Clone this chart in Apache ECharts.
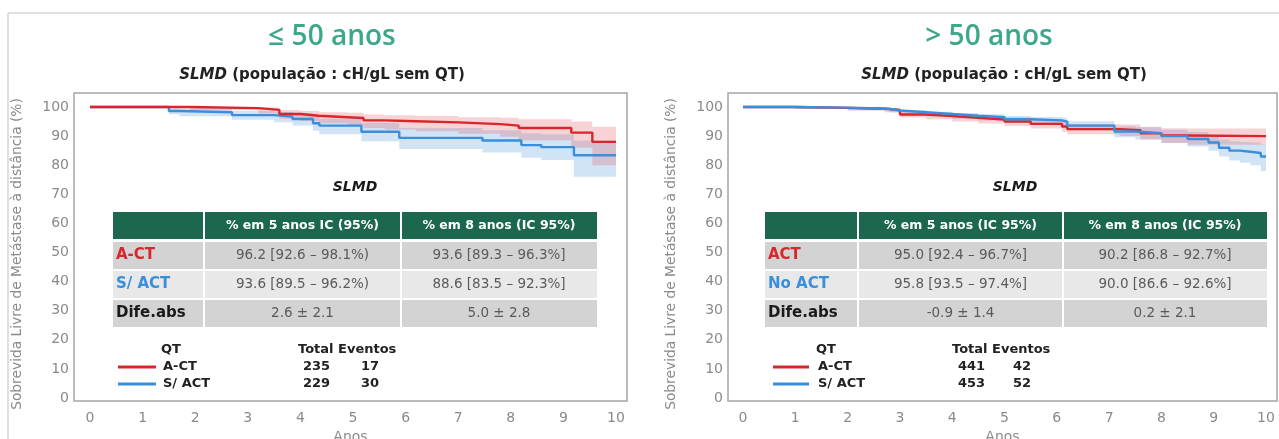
<!DOCTYPE html>
<html><head><meta charset="utf-8">
<script src="https://cdn.jsdelivr.net/npm/echarts@6/dist/echarts.min.js"></script>
<style>html,body{margin:0;padding:0;background:#fff}#c{width:1279px;height:439px}</style>
</head><body><div id="c"></div>
<script>
// ---------- DATA ----------
const xTicks = [0,1,2,3,4,5,6,7,8,9,10];
const yTicks = [0,10,20,30,40,50,60,70,80,90,100];
const panelTitles = ['≤ 50 anos', '> 50 anos'];
const subTitle = 'SLMD';
const subTitleRest = ' (população : cH/gL sem QT)';
const innerLabel = 'SLMD';
const yName = 'Sobrevida Livre de Metástase à distância (%)';
const xName = 'Anos';

// ≤ 50 anos – A-CT (red)
const youngActT   = [0, 1.9, 3.2, 3.6, 4.0, 4.35, 4.9, 5.2, 5.6, 6.2, 7.0, 7.8, 8.15, 9.15, 9.55, 10];
const youngActS   = [100, 99.6, 99.0, 97.6, 97.0, 96.5, 96.2, 95.4, 95.1, 94.7, 94.1, 93.6, 92.8, 91.2, 88.0, 88.0];
const youngActLo  = [100, 99.0, 97.8, 96.0, 95.2, 94.4, 93.8, 92.8, 92.3, 91.7, 90.8, 89.8, 88.6, 86.0, 80.0, 80.0];
const youngActHi  = [100, 100, 99.8, 99.0, 98.6, 98.2, 98.0, 97.4, 97.2, 96.9, 96.5, 96.3, 95.8, 95.0, 93.2, 93.2];
// ≤ 50 anos – S/ ACT (blue)
const youngNoT    = [0, 1.5, 1.7, 2.7, 3.5, 3.85, 4.24, 4.36, 5.16, 5.88, 7.46, 8.2, 8.58, 9.2, 10];
const youngNoS    = [100, 98.6, 98.2, 97.2, 96.7, 95.9, 94.4, 93.6, 91.5, 89.4, 88.5, 86.9, 86.2, 83.4, 83.4];
const youngNoLo   = [100, 97.5, 96.8, 95.6, 94.8, 93.6, 91.8, 90.6, 88.2, 85.6, 84.4, 82.6, 81.8, 76.0, 76.0];
const youngNoHi   = [100, 99.6, 99.4, 98.6, 98.3, 97.8, 96.8, 96.0, 94.5, 92.8, 92.0, 91.0, 90.6, 88.5, 88.5];

// > 50 anos – A-CT (red)
const oldActT  = [0, 1.0, 2.0, 2.7, 3.0, 3.5, 4.0, 4.5, 5.0, 5.5, 6.1, 6.2, 7.2, 7.6, 8.0, 8.5, 10];
const oldActS  = [100, 99.7, 99.4, 99.0, 97.4, 96.9, 96.3, 95.7, 95.0, 94.2, 93.3, 92.4, 92.0, 91.0, 90.2, 90.0, 90.0];
const oldActLo = [100, 99.3, 98.8, 98.2, 96.4, 95.8, 95.0, 94.3, 93.5, 92.6, 91.5, 90.6, 90.0, 88.8, 87.6, 87.0, 86.6];
const oldActHi = [100, 100, 99.9, 99.6, 98.3, 97.9, 97.4, 96.9, 96.4, 95.7, 95.0, 94.2, 94.0, 93.2, 92.7, 92.6, 92.6];
// > 50 anos – S/ ACT (blue)
const oldNoT  = [0, 1.0, 2.0, 2.8, 3.0, 3.5, 4.0, 4.5, 5.0, 5.5, 6.1, 6.2, 7.1, 7.5, 8.0, 8.5, 8.9, 9.1, 9.3, 9.5, 9.7, 9.9, 10];
const oldNoS  = [100, 99.8, 99.4, 98.8, 98.2, 97.6, 97.0, 96.5, 95.8, 95.4, 95.0, 93.6, 91.6, 91.0, 90.0, 89.0, 87.8, 86.0, 85.0, 84.6, 84.2, 83.0, 83.0];
const oldNoLo = [100, 99.4, 98.9, 98.1, 97.4, 96.7, 96.0, 95.4, 94.6, 94.1, 93.5, 91.9, 89.6, 88.8, 87.6, 86.4, 85.0, 83.0, 81.6, 80.8, 80.0, 78.0, 77.6];
const oldNoHi = [100, 100, 99.8, 99.4, 98.9, 98.4, 97.9, 97.5, 96.9, 96.6, 96.3, 95.1, 93.4, 93.0, 92.2, 91.4, 90.4, 88.8, 88.2, 88.0, 87.8, 87.2, 87.0];

// tables
const youngHead = ['', '% em 5 anos IC (95%)', '% em 8 anos (IC 95%)'];
const youngRowLabels = ['A-CT', 'S/ ACT', 'Dife.abs'];
const youngCol5 = ['96.2 [92.6 – 98.1%)', '93.6 [89.5 – 96.2%)', '2.6 ± 2.1'];
const youngCol8 = ['93.6 [89.3 – 96.3%]', '88.6 [83.5 – 92.3%]', '5.0 ± 2.8'];
const oldHead = ['', '% em 5 anos (IC 95%)', '% em 8 anos (IC 95%)'];
const oldRowLabels = ['ACT', 'No ACT', 'Dife.abs'];
const oldCol5 = ['95.0 [92.4 – 96.7%]', '95.8 [93.5 – 97.4%]', '-0.9 ± 1.4'];
const oldCol8 = ['90.2 [86.8 – 92.7%]', '90.0 [86.6 – 92.6%]', '0.2 ± 2.1'];

// legend
const legendTitle = 'QT';
const legendCols = 'Total Eventos';
const legendGroups = ['A-CT', 'S/ ACT'];
const youngTotals = [235, 229];
const youngEvents = [17, 30];
const oldTotals = [441, 453];
const oldEvents = [42, 52];

// ---------- STYLE / LAYOUT ----------
const RED = '#d8262d', BLUE = '#3a8edb', TEAL = '#3ca88a', GREEN = '#1c684e';
const RED_BAND = 'rgba(226,96,104,0.28)', BLUE_BAND = 'rgba(110,172,228,0.32)';
const DJ = '"DejaVu Sans"';
const chart = echarts.init(document.getElementById('c'));

function pairs(t, s) { return t.map((v, i) => [v, s[i]]); }
function bandSeries(gi, t, lo, hi, color) {
  return {
    type: 'custom', xAxisIndex: gi, yAxisIndex: gi, silent: true, clip: true, z: 1,
    data: [[t[0], hi[0]]],
    renderItem: function (params, api) {
      const up = [], dn = [];
      for (let i = 0; i < t.length; i++) {
        const tn = i < t.length - 1 ? t[i + 1] : t[i];
        up.push(api.coord([t[i], hi[i]]), api.coord([tn, hi[i]]));
        dn.push(api.coord([t[i], lo[i]]), api.coord([tn, lo[i]]));
      }
      return { type: 'polygon', shape: { points: up.concat(dn.reverse()) }, style: { fill: color } };
    }
  };
}
function lineSeries(gi, t, s, color) {
  return { type: 'line', xAxisIndex: gi, yAxisIndex: gi, step: 'end', symbol: 'none', z: 3,
    data: pairs(t, s), lineStyle: { color: color, width: 2.4 }, itemStyle: { color: color } };
}

const grids = [
  { left: 74, top: 93, width: 553, height: 308 },
  { left: 728, top: 93, width: 549, height: 308 }
];
const xRanges = [[-0.304, 10.209], [-0.287, 10.21]];

const xAxes = grids.map((g, i) => ({
  gridIndex: i, type: 'value', min: xRanges[i][0], max: xRanges[i][1],
  axisLine: { show: false }, axisTick: { show: false }, splitLine: { show: false },
  axisLabel: { customValues: xTicks, color: '#8a8a8a', fontFamily: 'DejaVu Sans', fontSize: 14, margin: 10 },
  name: xName, nameLocation: 'middle', nameGap: 27,
  nameTextStyle: { color: '#8a8a8a', fontFamily: 'DejaVu Sans', fontSize: 14 }
}));
const yAxes = grids.map((g, i) => ({
  gridIndex: i, type: 'value', min: -1.03, max: 104.81,
  axisLine: { show: false }, axisTick: { show: false }, splitLine: { show: false },
  axisLabel: { customValues: yTicks, color: '#8a8a8a', fontFamily: 'DejaVu Sans', fontSize: 14, margin: 5 },
  name: yName, nameLocation: 'middle', nameGap: 50,
  nameTextStyle: { color: '#8a8a8a', fontFamily: 'DejaVu Sans', fontSize: 13.8, padding: [0, 14, 0, 0] }
}));

// graphics
const G = [];
G.push({ type: 'line', shape: { x1: 8, y1: 13, x2: 1279, y2: 13 }, style: { stroke: '#d6d6d6', lineWidth: 1.5 }, silent: true });
G.push({ type: 'line', shape: { x1: 8, y1: 13, x2: 8, y2: 439 }, style: { stroke: '#d6d6d6', lineWidth: 1.5 }, silent: true });
function txt(x, y, text, font, fill, align, extra) {
  G.push({ type: 'text', x: x, y: y, silent: true, z: 10,
    style: Object.assign({ text: text, font: font, fill: fill, align: align || 'left', verticalAlign: 'middle' }, extra || {}) });
}
const layouts = [
  { title: [332, 37], sub: [322, 75], inner: [355, 187],
    cols: [113, 204, 401, 597], head: [212, 239], rows: [[242, 269], [271, 298], [300, 327]],
    leg: { l1: 118, l2: 156, qt: 161, lab: 163, tot: 298, totN: 303, evN: 361, ys: [350, 367, 384] } },
  { title: [989, 37], sub: [1004, 75], inner: [1015, 187],
    cols: [765, 858, 1063, 1267], head: [212, 239], rows: [[242, 269], [271, 298], [300, 327]],
    leg: { l1: 773, l2: 809, qt: 816, lab: 818, tot: 952, totN: 958, evN: 1013, ys: [350, 367, 384] } }
];
const tables = [
  { head: youngHead, labels: youngRowLabels, c5: youngCol5, c8: youngCol8, totals: youngTotals, events: youngEvents },
  { head: oldHead, labels: oldRowLabels, c5: oldCol5, c8: oldCol8, totals: oldTotals, events: oldEvents }
];
const rowBg = ['#d3d3d3', '#e8e8e8', '#d3d3d3'];
const rowColor = [RED, BLUE, '#1a1a1a'];
layouts.forEach((L, p) => {
  const T = tables[p];
  txt(L.title[0], L.title[1], panelTitles[p], '600 28px "Open Sans"', TEAL, 'center');
  txt(L.sub[0], L.sub[1], '{i|' + subTitle + '}' + subTitleRest, 'bold 15px ' + DJ, '#222', 'center',
    { rich: { i: { font: 'italic bold 15px ' + DJ, fill: '#222' } } });
  txt(L.inner[0], L.inner[1], innerLabel, 'italic bold 14px ' + DJ, '#1a1a1a', 'center');
  // header
  for (let c = 0; c < 3; c++) {
    G.push({ type: 'rect', silent: true, z: 5, shape: { x: L.cols[c] + (c ? 1 : 0), y: L.head[0], width: L.cols[c + 1] - L.cols[c] - (c ? 1 : 0) - (c < 2 ? 1 : 0), height: L.head[1] - L.head[0] }, style: { fill: GREEN } });
    if (T.head[c]) txt((L.cols[c] + L.cols[c + 1]) / 2, (L.head[0] + L.head[1]) / 2, T.head[c], 'bold 12.5px ' + DJ, '#fff', 'center');
  }
  // rows
  for (let r = 0; r < 3; r++) {
    const [y0, y1] = L.rows[r];
    for (let c = 0; c < 3; c++) {
      G.push({ type: 'rect', silent: true, z: 5, shape: { x: L.cols[c] + (c ? 1 : 0), y: y0, width: L.cols[c + 1] - L.cols[c] - (c ? 1 : 0) - (c < 2 ? 1 : 0), height: y1 - y0 }, style: { fill: rowBg[r] } });
    }
    const ym = (y0 + y1) / 2;
    txt(L.cols[0] + 3, ym, T.labels[r], 'bold 15px ' + DJ, rowColor[r], 'left');
    txt((L.cols[1] + L.cols[2]) / 2, ym, T.c5[r], '13.5px ' + DJ, '#5a5a5a', 'center');
    txt((L.cols[2] + L.cols[3]) / 2, ym, T.c8[r], '13.5px ' + DJ, '#5a5a5a', 'center');
  }
  // legend
  const lg = L.leg;
  txt(lg.qt, lg.ys[0], legendTitle, 'bold 13px ' + DJ, '#222', 'left');
  txt(lg.tot, lg.ys[0], legendCols, 'bold 13px ' + DJ, '#222', 'left');
  [RED, BLUE].forEach((col, k) => {
    G.push({ type: 'line', silent: true, z: 10, shape: { x1: lg.l1, y1: lg.ys[k + 1], x2: lg.l2, y2: lg.ys[k + 1] }, style: { stroke: col, lineWidth: 3 } });
    txt(lg.lab, lg.ys[k + 1], legendGroups[k], 'bold 13px ' + DJ, '#222', 'left');
    txt(lg.totN, lg.ys[k + 1], String(T.totals[k]), 'bold 13px ' + DJ, '#222', 'left');
    txt(lg.evN, lg.ys[k + 1], String(T.events[k]), 'bold 13px ' + DJ, '#222', 'left');
  });
});

const option = {
  backgroundColor: '#fff',
  animation: false,
  grid: grids.map(g => Object.assign({ show: true, borderColor: '#a5a5a5', borderWidth: 1.5, backgroundColor: 'transparent', outerBoundsMode: 'none', containLabel: false }, g)),
  xAxis: xAxes,
  yAxis: yAxes,
  series: [
    bandSeries(0, youngNoT, youngNoLo, youngNoHi, BLUE_BAND),
    bandSeries(0, youngActT, youngActLo, youngActHi, RED_BAND),
    lineSeries(0, youngNoT, youngNoS, BLUE),
    lineSeries(0, youngActT, youngActS, RED),
    bandSeries(1, oldNoT, oldNoLo, oldNoHi, BLUE_BAND),
    bandSeries(1, oldActT, oldActLo, oldActHi, RED_BAND),
    lineSeries(1, oldActT, oldActS, RED),
    lineSeries(1, oldNoT, oldNoS, BLUE)
  ],
  graphic: G
};
chart.setOption(option);
</script>
</body></html>
